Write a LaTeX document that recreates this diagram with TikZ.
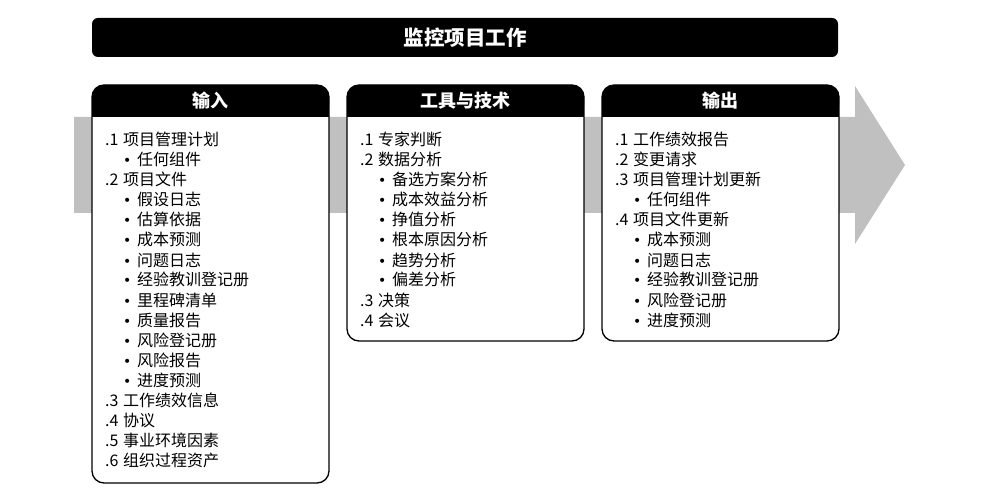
\documentclass[tikz,border=0pt]{standalone}
\usepackage{fontspec}
\setmainfont{Noto Sans CJK SC}
\newfontfamily\dotfont{DejaVu Sans}
\definecolor{flowgray}{RGB}{192,192,192}
\tikzset{
  flow/.style={fill=flowgray},
  titlebar/.style={fill=black, text=white, rounded corners=6pt, minimum width=746pt, minimum height=39pt, inner sep=0pt, font=\fontsize{20.5}{22}\selectfont\bfseries},
  panel/.style={draw=black, line width=1.3pt, fill=white, rounded corners=12pt, minimum width=237pt, anchor=north west, inner sep=0pt, outer sep=0pt},
  headtext/.style={text=white, inner sep=0pt, font=\fontsize{18}{20}\selectfont\bfseries},
  item/.style={anchor=west, inner sep=0pt, text height=14pt, text depth=2pt, font=\fontsize{16}{18}\selectfont},
}
\newcommand{\nr}[1]{\makebox[18pt][l]{#1}}
\newcommand{\bul}{\makebox[8pt][c]{\dotfont\fontsize{14}{16}\selectfont •}\hspace{6pt}}
\begin{document}
\begin{tikzpicture}[x=1pt, y=-1pt]
\useasboundingbox (0,0) rectangle (1006,494);
% gray flow arrow behind the panels
\fill[flow] (74,117) -- (855,117) -- (855,86) -- (905,165) -- (855,244) -- (855,213) -- (74,213) -- cycle;
\node[titlebar] (title) at (465,37.5) {监控项目工作};
% panels
\node[panel, minimum height=398pt] (inputs) at (92,85) {};
\node[panel, minimum height=256pt] (tools) at (347,85) {};
\node[panel, minimum height=256pt] (outputs) at (602,85) {};
\foreach \p in {inputs, tools, outputs} {
  \fill[rounded corners=12pt] (\p.north west) rectangle ([yshift=-32pt]\p.north east);
  \fill ([yshift=-16pt]\p.north west) rectangle ([yshift=-32pt]\p.north east);
}
\node[headtext] (inhead) at (210.5,101) {输入};
\node[headtext] (toolhead) at (465.5,101) {工具与技术};
\node[headtext] (outhead) at (720.5,101) {输出};
% inputs
\node[item] (in1) at (105,140) {\nr{.1}项目管理计划};
\node[item] (in2) at (123,160) {\bul 任何组件};
\node[item] (in3) at (105,180) {\nr{.2}项目文件};
\node[item] (in4) at (123,200) {\bul 假设日志};
\node[item] (in5) at (123,220) {\bul 估算依据};
\node[item] (in6) at (123,240) {\bul 成本预测};
\node[item] (in7) at (123,260) {\bul 问题日志};
\node[item] (in8) at (123,280) {\bul 经验教训登记册};
\node[item] (in9) at (123,300) {\bul 里程碑清单};
\node[item] (in10) at (123,320) {\bul 质量报告};
\node[item] (in11) at (123,340) {\bul 风险登记册};
\node[item] (in12) at (123,360) {\bul 风险报告};
\node[item] (in13) at (123,380) {\bul 进度预测};
\node[item] (in14) at (105,400) {\nr{.3}工作绩效信息};
\node[item] (in15) at (105,420) {\nr{.4}协议};
\node[item] (in16) at (105,440) {\nr{.5}事业环境因素};
\node[item] (in17) at (105,460) {\nr{.6}组织过程资产};
% tools and techniques
\node[item] (tl1) at (360,140) {\nr{.1}专家判断};
\node[item] (tl2) at (360,160) {\nr{.2}数据分析};
\node[item] (tl3) at (378,180) {\bul 备选方案分析};
\node[item] (tl4) at (378,200) {\bul 成本效益分析};
\node[item] (tl5) at (378,220) {\bul 挣值分析};
\node[item] (tl6) at (378,240) {\bul 根本原因分析};
\node[item] (tl7) at (378,260) {\bul 趋势分析};
\node[item] (tl8) at (378,280) {\bul 偏差分析};
\node[item] (tl9) at (360,300) {\nr{.3}决策};
\node[item] (tl10) at (360,320) {\nr{.4}会议};
% outputs
\node[item] (out1) at (615,140) {\nr{.1}工作绩效报告};
\node[item] (out2) at (615,160) {\nr{.2}变更请求};
\node[item] (out3) at (615,180) {\nr{.3}项目管理计划更新};
\node[item] (out4) at (633,200) {\bul 任何组件};
\node[item] (out5) at (615,220) {\nr{.4}项目文件更新};
\node[item] (out6) at (633,240) {\bul 成本预测};
\node[item] (out7) at (633,260) {\bul 问题日志};
\node[item] (out8) at (633,280) {\bul 经验教训登记册};
\node[item] (out9) at (633,300) {\bul 风险登记册};
\node[item] (out10) at (633,320) {\bul 进度预测};
\end{tikzpicture}
\end{document}
